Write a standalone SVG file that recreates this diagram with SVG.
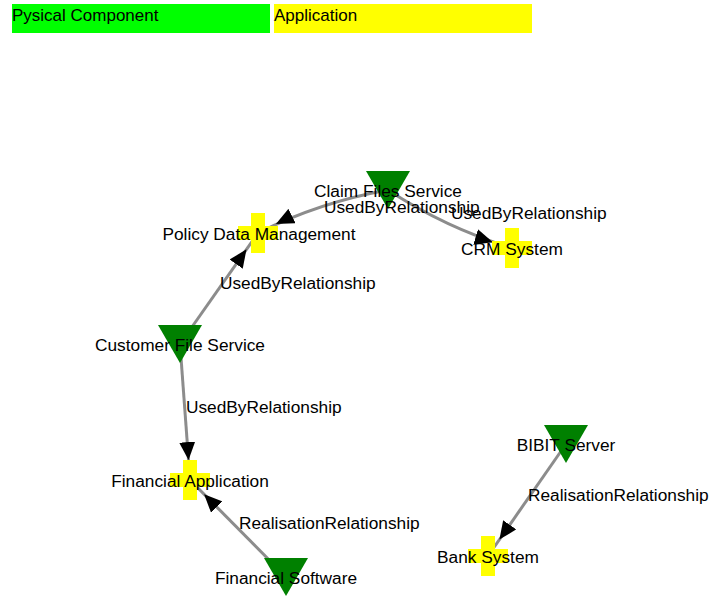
<svg xmlns="http://www.w3.org/2000/svg" width="709" height="600" viewBox="0 0 709 600">
<style>
text{font-family:"Liberation Sans",Arial,sans-serif;font-size:17.3px;fill:#000}
#legend text{font-size:17px}
.lbl{text-anchor:middle}
.link{fill:none;stroke:#8c8c8c;stroke-width:3}
.phys{fill:#008000}
.app{fill:#ffff00}
</style>
<defs>
<marker id="arrow" markerUnits="userSpaceOnUse" markerWidth="20" markerHeight="16" refX="38" refY="8" orient="auto">
<path d="M0,0 L18,8 L0,16 Z" fill="#000"/>
</marker>
<path id="tri" d="M-22,-19 L22,-19 L0,19 Z"/>
<path id="cross" d="M-7,-20 H7 V-7 H20 V7 H7 V20 H-7 V7 H-20 V-7 H-7 Z"/>
</defs>
<rect width="709" height="600" fill="#fff"/>
<g id="legend">
<rect x="12" y="4" width="258" height="29" fill="#00ff00"/>
<text x="12" y="21">Pysical Component</text>
<rect x="274" y="4" width="258" height="29" fill="#ffff00"/>
<text x="274" y="21">Application</text>
</g>
<g id="links">
<path class="link" d="M388,190 Q320,202 258,233" marker-end="url(#arrow)"/>
<path class="link" d="M388,190 Q446,228 512,248" marker-end="url(#arrow)"/>
<path class="link" d="M180,344 L258,233" marker-end="url(#arrow)"/>
<path class="link" d="M180,344 L190,480" marker-end="url(#arrow)"/>
<path class="link" d="M286,577 L190,480" marker-end="url(#arrow)"/>
<path class="link" d="M566,444 L488,556" marker-end="url(#arrow)"/>
</g>
<g id="node-policy"><use href="#cross" class="app" x="258" y="233"/><text class="lbl" x="259" y="240">Policy Data Management</text></g>
<g id="node-claim"><use href="#tri" class="phys" x="388" y="190"/><text class="lbl" x="388" y="197">Claim Files Service</text></g>
<g id="node-crm"><use href="#cross" class="app" x="512" y="248"/><text class="lbl" x="512" y="255">CRM System</text></g>
<g id="node-customer"><use href="#tri" class="phys" x="180" y="344"/><text class="lbl" x="180" y="351">Customer File Service</text></g>
<g id="node-finapp"><use href="#cross" class="app" x="190" y="480"/><text class="lbl" x="190" y="487">Financial Application</text></g>
<g id="node-finsw"><use href="#tri" class="phys" x="286" y="577"/><text class="lbl" x="286" y="584">Financial Software</text></g>
<g id="node-bibit"><use href="#tri" class="phys" x="566" y="444"/><text class="lbl" x="566" y="451">BIBIT Server</text></g>
<g id="node-bank"><use href="#cross" class="app" x="488" y="556"/><text class="lbl" x="488" y="563">Bank System</text></g>
<g id="link-labels">
<text x="324" y="213">UsedByRelationship</text>
<text x="451" y="219">UsedByRelationship</text>
<text x="220" y="289">UsedByRelationship</text>
<text x="186" y="413">UsedByRelationship</text>
<text x="239" y="529">RealisationRelationship</text>
<text x="528" y="501">RealisationRelationship</text>
</g>
</svg>
